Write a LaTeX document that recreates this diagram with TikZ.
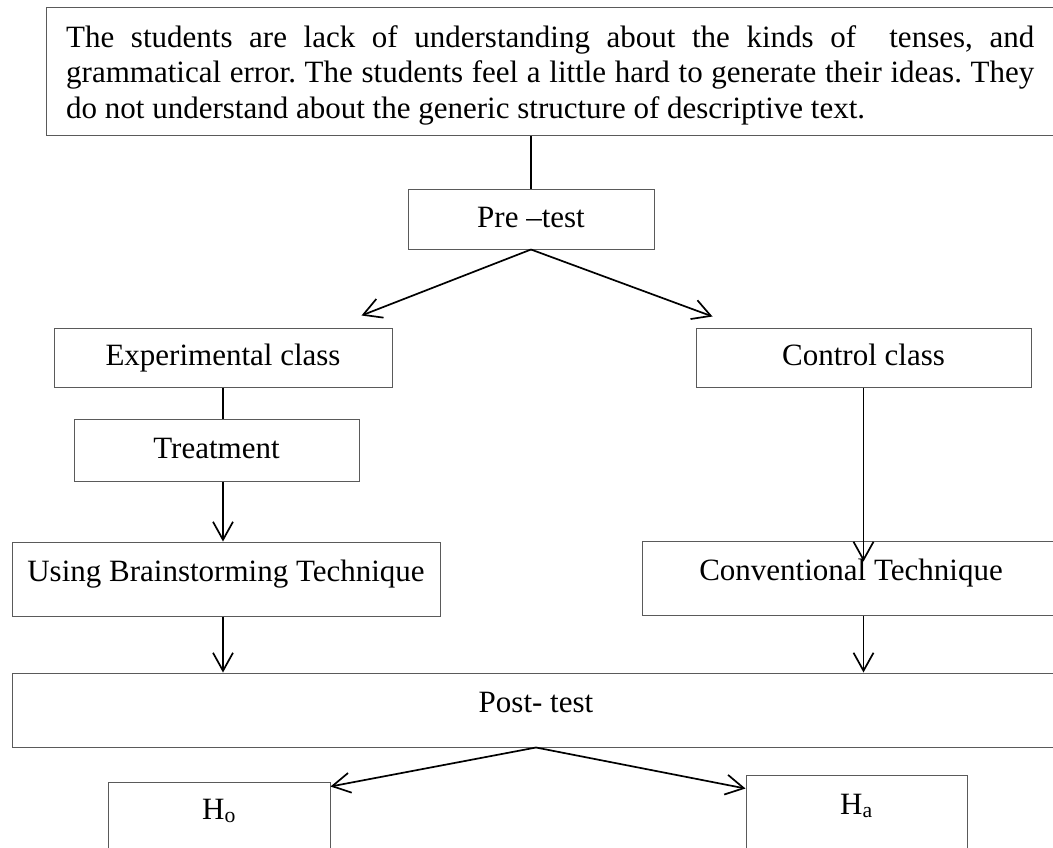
\documentclass[tikz,border=0pt]{standalone}
\usepackage{fontspec}
\setmainfont{Liberation Serif}
\usetikzlibrary{arrows.meta,calc}
\frenchspacing
\definecolor{boxgray}{HTML}{5A5A5A}
\tikzset{
  box/.style={draw=boxgray, line width=1pt, inner sep=0pt, text height=21pt, text depth=5pt,
    font=\fontsize{31}{35.5}\selectfont},
  link/.style={black, line width=1.7pt},
  arr/.style={link, -{Straight Barb[length=18pt,width=20pt]}}
}

\begin{document}
\begin{tikzpicture}[x=1pt,y=-1pt]
\useasboundingbox (0,0) rectangle (1053,847);
% problem statement
\node[box, minimum width=1040pt, minimum height=128pt, anchor=north west] (problem) at (46,7) {};
\node[anchor=base west, text width=968pt, align=justify, inner sep=0pt,
  font=\fontsize{31}{35.5}\selectfont] (problemtext) at (66,47)
  {The students are lack of understanding about the kinds of\ \ tenses, and\linebreak
   grammatical error. The students feel a little hard to generate their ideas. They\linebreak
   do not understand about the generic structure of descriptive text.};
\node[box, minimum width=246pt, minimum height=60pt] (pretest) at (531,219) {Pre –test};
\node[box, minimum width=338pt, minimum height=59pt] (exper) at (223,357.5) {Experimental class};
\node[box, minimum width=335pt, minimum height=59pt] (control) at (863.5,357.5) {Control class};
\node[box, minimum width=285pt, minimum height=62pt] (treat) at (216.5,450) {Treatment};
\node[box, minimum width=428pt, minimum height=74pt, text depth=17pt] (brain) at (226,579) {Using Brainstorming Technique};
\node[box, minimum width=418pt, minimum height=74pt, text depth=17pt] (conv) at (851,578) {Conventional Technique};
\node[box, minimum width=1048pt, minimum height=74pt, text depth=17pt] (post) at (536,710) {Post- test};
\node[box, minimum width=222pt, minimum height=76pt, text depth=23pt] (ho) at (219,820) {H\textsubscript{o}};
\node[box, minimum width=221pt, minimum height=76pt, text depth=19pt] (ha) at (856.5,813) {H\textsubscript{a}};

\draw[link] (pretest.north |- problem.south) -- (pretest.north);
\draw[arr] (pretest.south) -- ($(exper.north east)+(-31,-12)$);
\draw[arr] (pretest.south) -- ($(control.north west)+(17,-11)$);
\draw[link] (exper.south) -- (exper.south |- treat.north);
\draw[arr] (exper.south |- treat.south) -- (exper.south |- brain.north);
\draw[arr] (control.south) -- ($(control.south |- conv.north)+(0,21)$);
\draw[arr] (exper.south |- brain.south) -- (exper.south |- post.north);
\draw[arr] (control.south |- conv.south) -- (control.south |- post.north);
% \draw[arr] (post.south) -- (ho.north);
\draw[arr] (post.south) -- ($(ho.north east)+(0,5)$);
\draw[arr] (post.south) -- ($(ha.north west)+(0,14)$);
\end{tikzpicture}
\end{document}
